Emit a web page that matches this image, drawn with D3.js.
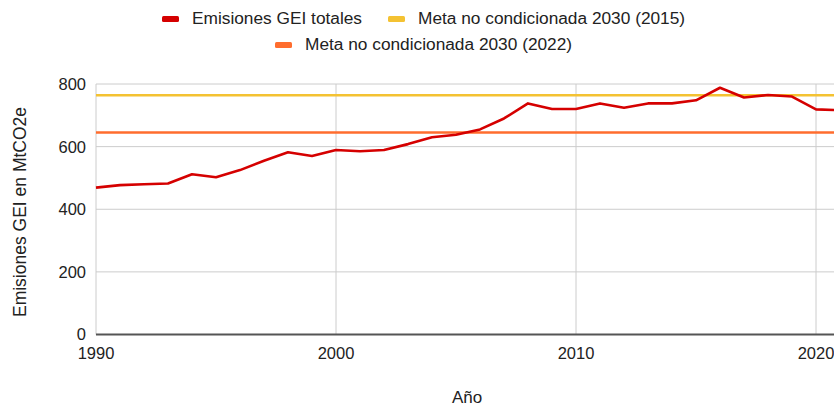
<!DOCTYPE html>
<html>
<head>
<meta charset="utf-8">
<script src="https://cdn.jsdelivr.net/npm/d3@7"></script>
<style>
  body { margin: 0; background: #fff; overflow: hidden; }
  svg { font-family: "Liberation Sans", Arial, sans-serif; display: block; }
</style>
</head>
<body>
<div id="chart"></div>
<script>
// datos
var years = [1990, 1991, 1992, 1993, 1994, 1995, 1996, 1997, 1998, 1999,
             2000, 2001, 2002, 2003, 2004, 2005, 2006, 2007, 2008, 2009,
             2010, 2011, 2012, 2013, 2014, 2015, 2016, 2017, 2018, 2019,
             2020, 2021];
var emisiones = [469, 477, 480, 482, 512, 502, 525, 555, 582, 570,
                 589, 585, 589, 608, 630, 638, 655, 690, 738, 720,
                 720, 738, 724, 738, 738, 748, 788, 757, 765, 760,
                 719, 716];
var meta2015 = 764;
var meta2022 = 645;
var xTicks = [1990, 2000, 2010, 2020];
var yTicks = [0, 200, 400, 600, 800];
var seriesNames = ["Emisiones GEI totales", "Meta no condicionada 2030 (2015)", "Meta no condicionada 2030 (2022)"];
var colors = ["#d50000", "#f4c232", "#ff6d2e"];

var W = 834, H = 408;

var svg = d3.select("#chart")
  .append("svg")
    .attr("width", W)
    .attr("height", H);

var x = d3.scaleLinear().domain([1990, 2020]).range([96, 816]);
var y = d3.scaleLinear().domain([0, 800]).range([334.5, 84]);

// grid
svg.append("g")
  .selectAll("line")
  .data(yTicks.slice(1))
  .join("line")
    .attr("x1", x(1990)).attr("x2", W)
    .attr("y1", d => y(d)).attr("y2", d => y(d))
    .attr("stroke", "#cccccc").attr("stroke-width", 1);

svg.append("g")
  .selectAll("line")
  .data(xTicks)
  .join("line")
    .attr("x1", d => x(d)).attr("x2", d => x(d))
    .attr("y1", y(800)).attr("y2", y(0))
    .attr("stroke", "#cccccc").attr("stroke-width", 1);

// eje x (linea base)
svg.append("line")
  .attr("x1", x(1990)).attr("x2", W)
  .attr("y1", y(0)).attr("y2", y(0))
  .attr("stroke", "#555").attr("stroke-width", 2);

// etiquetas de los ejes
svg.append("g")
  .selectAll("text")
  .data(yTicks)
  .join("text")
    .attr("x", 86)
    .attr("y", d => y(d))
    .attr("dy", "0.36em")
    .attr("text-anchor", "end")
    .style("font-size", "16.5px")
    .style("fill", "#222")
    .text(d => d);

svg.append("g")
  .selectAll("text")
  .data(xTicks)
  .join("text")
    .attr("x", d => x(d))
    .attr("y", 359)
    .attr("text-anchor", "middle")
    .style("font-size", "16.5px")
    .style("fill", "#222")
    .text(d => d);

svg.append("text")
  .attr("x", 467).attr("y", 403)
  .attr("text-anchor", "middle")
  .style("font-size", "17px")
  .style("fill", "#222")
  .text("Año");

svg.append("text")
  .attr("transform", "translate(26," + 212 + ") rotate(-90)")
  .attr("text-anchor", "middle")
  .style("font-size", "17.5px")
  .style("fill", "#222")
  .text("Emisiones GEI en MtCO2e");

// metas
svg.append("line")
  .attr("x1", x(1990)).attr("x2", x(2021))
  .attr("y1", y(meta2015)).attr("y2", y(meta2015))
  .attr("stroke", colors[1]).attr("stroke-width", 2.6);

svg.append("line")
  .attr("x1", x(1990)).attr("x2", x(2021))
  .attr("y1", y(meta2022)).attr("y2", y(meta2022))
  .attr("stroke", colors[2]).attr("stroke-width", 2.6);

// emisiones
var line = d3.line()
  .x((d, i) => x(years[i]))
  .y(d => y(d));

svg.append("path")
  .datum(emisiones)
  .attr("d", line)
  .attr("fill", "none")
  .attr("stroke", colors[0])
  .attr("stroke-width", 2.6)
  .attr("stroke-linejoin", "round");

// leyenda
var legendPos = [
  {sx: 162, ty: 24},
  {sx: 388, ty: 24},
  {sx: 275, ty: 50}
];
var leg = svg.append("g")
  .selectAll("g")
  .data(seriesNames)
  .join("g");

leg.append("rect")
  .attr("x", (d, i) => legendPos[i].sx)
  .attr("y", (d, i) => legendPos[i].ty - 8)
  .attr("width", 17).attr("height", 6)
  .attr("rx", 1.5)
  .attr("fill", (d, i) => colors[i]);

leg.append("text")
  .attr("x", (d, i) => legendPos[i].sx + 30)
  .attr("y", (d, i) => legendPos[i].ty)
  .style("font-size", "17.3px")
  .style("fill", "#222")
  .text(d => d);
</script>
</body>
</html>
